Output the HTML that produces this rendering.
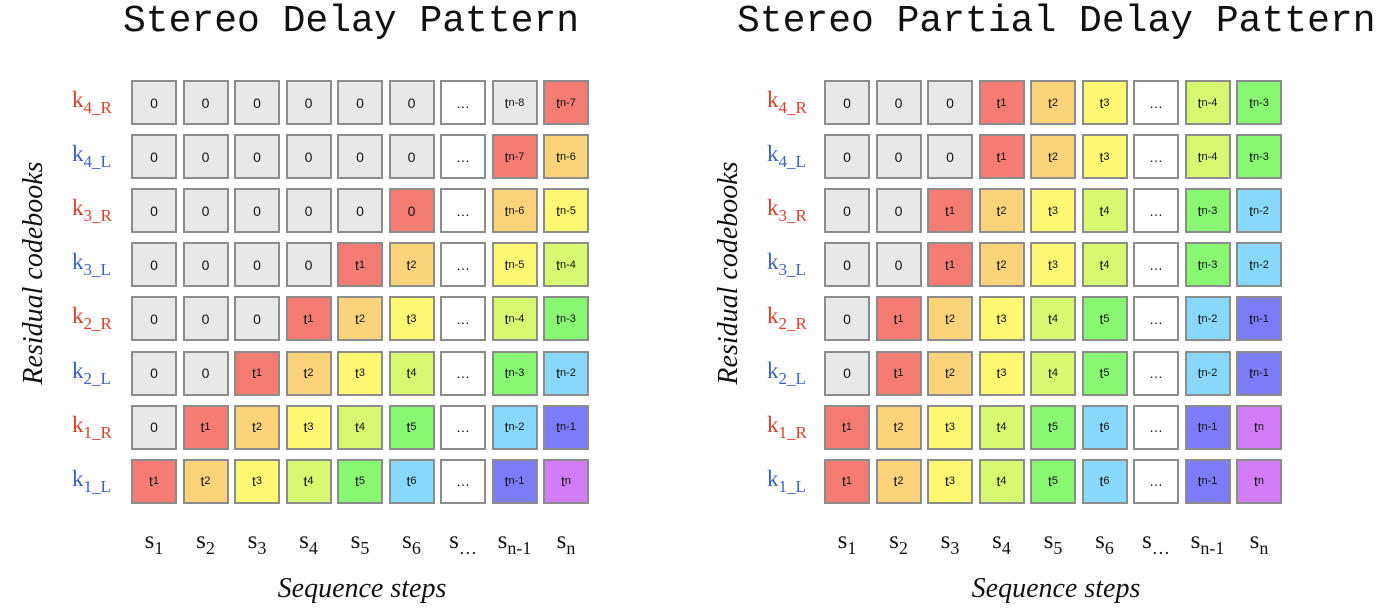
<!DOCTYPE html>
<html><head><meta charset="utf-8">
<style>
body{margin:0;width:1382px;height:610px;background:#fff;position:relative;overflow:hidden;font-family:"Liberation Sans",sans-serif}
.title{position:absolute;top:0;font-family:"Liberation Mono",monospace;font-size:38px;line-height:44px;color:#111;white-space:pre}
.cell{position:absolute;width:46px;height:45px;box-sizing:border-box;border:2px solid #8c8c8c;display:flex;align-items:center;justify-content:center;font-size:14px;color:#111}
.cell sub{font-size:11px;vertical-align:-4px;line-height:0}
.klab{position:absolute;font-family:"Liberation Serif",serif;font-size:23px;line-height:1;white-space:nowrap}
.klab sub{font-size:17px;vertical-align:-6px;line-height:0}
.slab{position:absolute;width:60px;text-align:center;font-family:"Liberation Serif",serif;font-size:25px;line-height:1;color:#111;white-space:nowrap}
.slab sub{font-size:18px;vertical-align:-6px;line-height:0}
.axis{position:absolute;font-family:"Liberation Serif",serif;font-style:italic;font-size:28px;color:#111;white-space:nowrap;line-height:1}
</style></head><body>
<div class="title" style="left:123px">Stereo Delay Pattern</div>
<div class="title" style="left:737px">Stereo Partial Delay Pattern</div>
<div class="axis" style="left:34px;top:273px;transform:translate(-50%,-50%) rotate(-90deg)">Residual codebooks</div>
<div class="axis" style="left:729px;top:273px;transform:translate(-50%,-50%) rotate(-90deg)">Residual codebooks</div>
<div class="axis" style="left:362px;top:575px;transform:translateX(-50%)">Sequence steps</div>
<div class="axis" style="left:1056px;top:575px;transform:translateX(-50%)">Sequence steps</div>
<div id="root"></div>
<script>
const rowLabels=[["4","R"],["4","L"],["3","R"],["3","L"],["2","R"],["2","L"],["1","R"],["1","L"]];
const colLabels=["1","2","3","4","5","6","…","n-1","n"];
const leftText=[
"0 0 0 0 0 0 … tn-8 tn-7","0 0 0 0 0 0 … tn-7 tn-6","0 0 0 0 0 0 … tn-6 tn-5","0 0 0 0 t1 t2 … tn-5 tn-4",
"0 0 0 t1 t2 t3 … tn-4 tn-3","0 0 t1 t2 t3 t4 … tn-3 tn-2","0 t1 t2 t3 t4 t5 … tn-2 tn-1","t1 t2 t3 t4 t5 t6 … tn-1 tn"];
const leftColor=["gggggggwgR","gggggwRO","gggggRwOY","ggggROwYL","gggROYwLG","ggROYLwGB","gROYLGwBI","ROYLGBwIV"];
const rightText=[
"0 0 0 t1 t2 t3 … tn-4 tn-3","0 0 0 t1 t2 t3 … tn-4 tn-3","0 0 t1 t2 t3 t4 … tn-3 tn-2","0 0 t1 t2 t3 t4 … tn-3 tn-2",
"0 t1 t2 t3 t4 t5 … tn-2 tn-1","0 t1 t2 t3 t4 t5 … tn-2 tn-1","t1 t2 t3 t4 t5 t6 … tn-1 tn","t1 t2 t3 t4 t5 t6 … tn-1 tn"];
const rightColor=["gggROYwLG","gggROYwLG","ggROYLwGB","ggROYLwGB","gROYLGwBI","gROYLGwBI","ROYLGBwIV","ROYLGBwIV"];
leftColor[0]="ggggggwgR";leftColor[1]="ggggggwRO";
const palette={g:"#e8e8e8",w:"#ffffff",R:"#f47c72",O:"#fad37a",Y:"#fdf872",L:"#d8f872",G:"#88f872",B:"#88d8fc",I:"#7c7cf8",V:"#d27cf8"};
const root=document.getElementById('root');
const colX=(g,j)=>(g===0?131:824)+51.5*j;
const rowY=r=>80+54.1*r;
function fmt(t){return t.startsWith('t')?'t<sub>'+t.slice(1)+'</sub>':t;}
[[leftText,leftColor],[rightText,rightColor]].forEach(([txt,col],g)=>{
  txt.forEach((row,r)=>{
    row.split(' ').forEach((t,j)=>{
      const d=document.createElement('div');
      d.className='cell';
      
      
      d.style.left=colX(g,j)+'px';d.style.top=rowY(r)+'px';
      d.style.background=palette[col[r][j]];
      d.innerHTML=fmt(t);
      root.appendChild(d);
    });
    const k=document.createElement('div');
    k.className='klab';
    
    
    const side=rowLabels[r][1];
    k.style.color=side==='R'?'#d8402c':'#3a62c4';
    k.style.left=(g===0?72:767)+'px';k.style.top=(rowY(r)+8)+'px';
    k.innerHTML='k<sub>'+rowLabels[r][0]+'_'+side+'</sub>';
    root.appendChild(k);
  });
  colLabels.forEach((c,j)=>{
    const s=document.createElement('div');
    s.className='slab';
    
    
    s.style.left=(colX(g,j)+23-30)+'px';s.style.top='528px';
    s.innerHTML='s<sub>'+c+'</sub>';
    root.appendChild(s);
  });
});
</script>
</body></html>
